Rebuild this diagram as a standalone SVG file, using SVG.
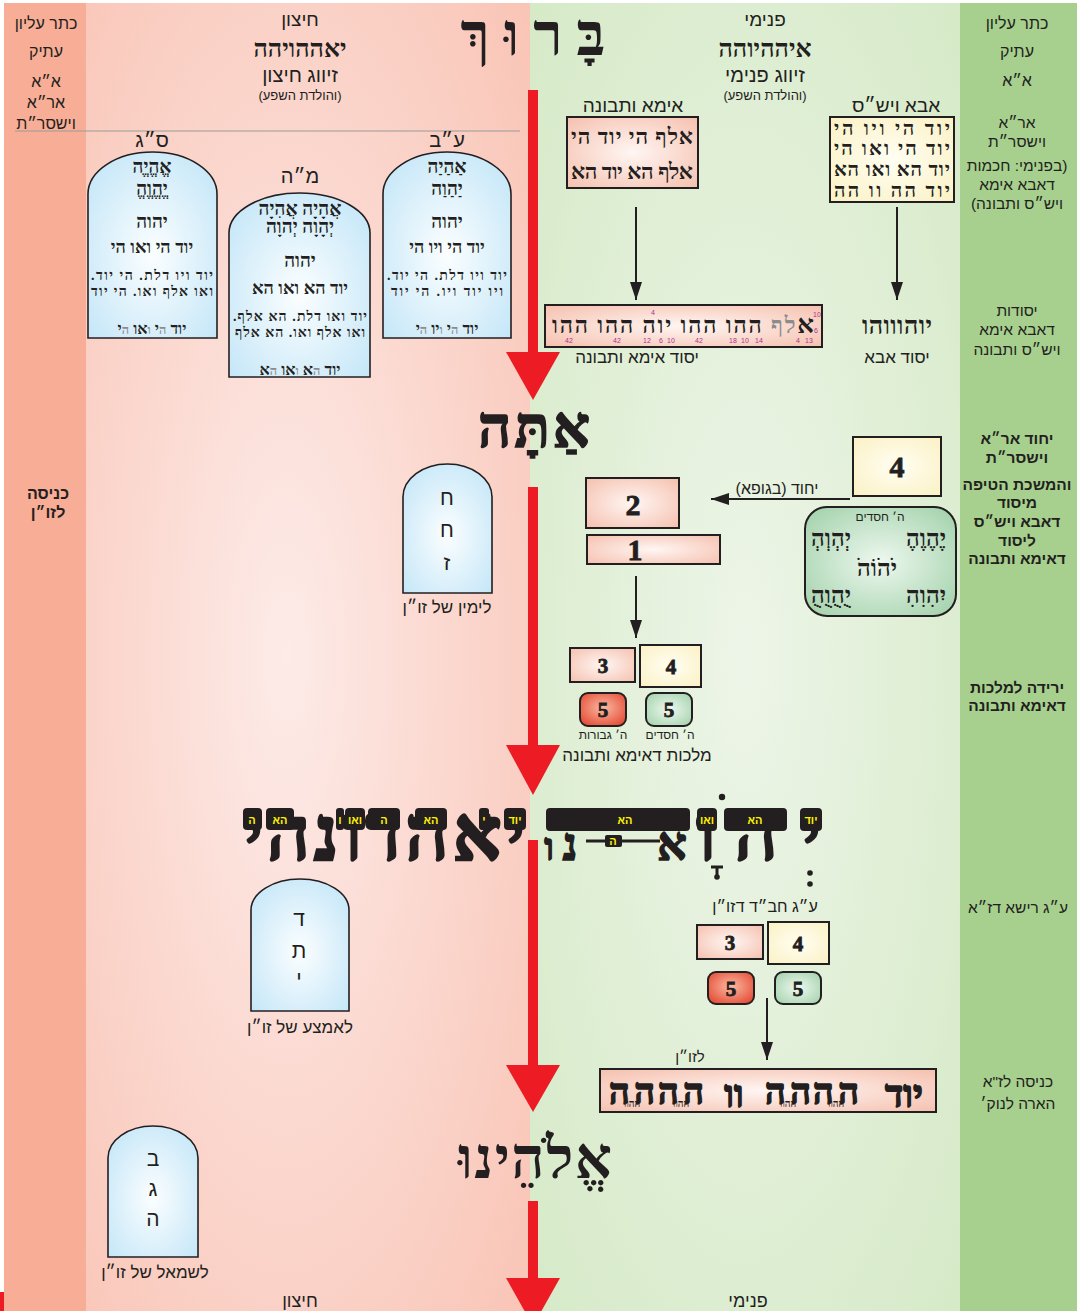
<svg xmlns="http://www.w3.org/2000/svg" width="1091" height="1311" viewBox="0 0 1091 1311">
<defs>
<radialGradient id="gPink" cx="0.45" cy="0.5" r="0.75"><stop offset="0" stop-color="#fdebe8"/><stop offset="1" stop-color="#f9c4b5"/></radialGradient>
<radialGradient id="gGreen" cx="0.5" cy="0.5" r="0.75"><stop offset="0" stop-color="#edf5e8"/><stop offset="1" stop-color="#d4e9c5"/></radialGradient>
<radialGradient id="gTab" cx="0.5" cy="0.55" r="0.65"><stop offset="0" stop-color="#fbfeff"/><stop offset="1" stop-color="#c6e7f8"/></radialGradient>
<radialGradient id="gBoxP" cx="0.5" cy="0.5" r="0.7"><stop offset="0" stop-color="#fff6f3"/><stop offset="1" stop-color="#f5c0ae"/></radialGradient>
<radialGradient id="gBoxY" cx="0.5" cy="0.5" r="0.7"><stop offset="0" stop-color="#fffef2"/><stop offset="1" stop-color="#fbf1c4"/></radialGradient>
<radialGradient id="gBoxG" cx="0.5" cy="0.5" r="0.7"><stop offset="0" stop-color="#eef8ef"/><stop offset="1" stop-color="#9fd0a8"/></radialGradient>
<radialGradient id="gBoxR" cx="0.5" cy="0.45" r="0.7"><stop offset="0" stop-color="#fbb9a3"/><stop offset="1" stop-color="#e2412a"/></radialGradient>
<marker id="ah" markerWidth="18" markerHeight="12" refX="18" refY="6" orient="auto" markerUnits="userSpaceOnUse"><path d="M0,0 L18,6 L0,12 Z" fill="#231f20"/></marker>
</defs>
<style>
.t{font-family:"Liberation Sans","DejaVu Sans",sans-serif;direction:rtl;text-anchor:middle;fill:#231f20}
.tb{font-family:"Liberation Serif","DejaVu Sans",serif;font-weight:bold;direction:rtl;text-anchor:middle;fill:#231f20}
.hv{stroke:#231f20;stroke-width:1.6}
.b{font-weight:bold}
.num{font-family:"Liberation Serif","DejaVu Serif",serif;font-weight:bold;text-anchor:middle;fill:#231f20;stroke:#231f20;stroke-width:0.8}
.tab{fill:url(#gTab);stroke:#231f20;stroke-width:1.6}
.box{stroke:#231f20;stroke-width:2}
.bp{fill:url(#gBoxP)}
.by{fill:url(#gBoxY)}
.bg{fill:url(#gBoxG)}
.br{fill:url(#gBoxR)}
.gr{fill:#8c8c8c;font-size:0.8em}
.yl{fill:#fff200;font-family:"Liberation Sans","DejaVu Sans",sans-serif;font-weight:bold;text-anchor:middle;direction:rtl;font-size:11px}
.blk{fill:#231f20}
.pn{fill:#b0308f;font-family:"Liberation Sans",sans-serif;font-size:7px;text-anchor:middle}
.conn{stroke:#231f20;stroke-width:2;fill:none}
.red{fill:#ed1c24}
</style>

<!-- backgrounds -->
<rect x="0" y="0" width="1091" height="1311" fill="#ffffff"/>
<rect x="4" y="3" width="83" height="1308" fill="#f8ad96"/>
<rect x="86" y="3" width="445" height="1308" fill="url(#gPink)"/>
<rect x="530" y="3" width="431" height="1308" fill="url(#gGreen)"/>
<rect x="960" y="3" width="117" height="1308" fill="#a7d08e"/>
<rect x="0" y="1292" width="4" height="19" fill="#ed1c24"/>
<line x1="15" y1="131" x2="520" y2="131" stroke="#9a9a9a" stroke-width="1"/>

<!-- side labels -->
<g id="left-column">
<text class="t" x="46" y="29" font-size="16">כתר עליון</text>
<text class="t" x="46" y="57" font-size="16">עתיק</text>
<text class="t" x="46" y="87" font-size="16">א״א</text>
<text class="t" x="46" y="108" font-size="16">אר״א</text>
<text class="t" x="46" y="129" font-size="16">וישסר״ת</text>
<text class="t b" x="48" y="499" font-size="16">כניסה</text>
<text class="t b" x="48" y="518" font-size="16">לזו״ן</text>
</g>
<g id="right-column">
<text class="t" x="1017" y="29" font-size="16">כתר עליון</text>
<text class="t" x="1017" y="57" font-size="16">עתיק</text>
<text class="t" x="1017" y="86" font-size="16">א״א</text>
<text class="t" x="1017" y="128" font-size="15.5">אר״א</text>
<text class="t" x="1017" y="147" font-size="15.5">וישסר״ת</text>
<text class="t" x="1017" y="171" font-size="15.5">(בפנימי: חכמות</text>
<text class="t" x="1017" y="190" font-size="15.5">דאבא אימא</text>
<text class="t" x="1017" y="209" font-size="15.5">ויש״ס ותבונה)</text>
<text class="t" x="1017" y="316" font-size="15.5">יסודות</text>
<text class="t" x="1017" y="335" font-size="15.5">דאבא אימא</text>
<text class="t" x="1017" y="355" font-size="15.5">ויש״ס ותבונה</text>
<text class="t b" x="1017" y="444" font-size="15.5">יחוד אר״א</text>
<text class="t b" x="1017" y="463" font-size="15.5">וישסר״ת</text>
<text class="t b" x="1017" y="490" font-size="15.5">והמשכת הטיפה</text>
<text class="t b" x="1017" y="508" font-size="15.5">מיסוד</text>
<text class="t b" x="1017" y="527" font-size="15.5">דאבא ויש״ס</text>
<text class="t b" x="1017" y="546" font-size="15.5">ליסוד</text>
<text class="t b" x="1017" y="564" font-size="15.5">דאימא ותבונה</text>
<text class="t b" x="1017" y="693" font-size="15.5">ירידה למלכות</text>
<text class="t b" x="1017" y="711" font-size="15.5">דאימא ותבונה</text>
<text class="t" x="1018" y="913" font-size="15.5">ע״ג רישא דז״א</text>
<text class="t" x="1018" y="1087" font-size="15.5">כניסה לז"א</text>
<text class="t" x="1018" y="1109" font-size="15.5">הארה לנוק׳</text>
</g>

<!-- headers -->
<g id="header-outer">
<text class="t" x="300" y="26" font-size="19">חיצון</text>
<text class="tb" x="300" y="57" font-size="25">יאההויהה</text>
<text class="t" x="300" y="82" font-size="20">זיווג חיצון</text>
<text class="t" x="300" y="100" font-size="13">(והולדת השפע)</text>
</g>
<g id="header-inner">
<text class="t" x="765" y="26" font-size="19">פנימי</text>
<text class="tb" x="765" y="57" font-size="25">איההיוהה</text>
<text class="t" x="765" y="82" font-size="20">זיווג פנימי</text>
<text class="t" x="765" y="100" font-size="13">(והולדת השפע)</text>
</g>

<!-- big words -->
<g id="word-baruch"><text class="tb" x="533" y="55" font-size="60" textLength="145">בָּרוּךְ</text></g>
<g id="word-ata"><text class="tb hv" x="534" y="447" font-size="58" textLength="112">אַתָּה</text></g>
<g id="word-elokeinu"><text class="tb" x="535" y="1178" font-size="58" textLength="154">אֱלֹהֵינוּ</text></g>

<g id="word-yahdonahi">
<text class="tb" x="384" y="860" font-size="76" textLength="282" stroke="#231f20" stroke-width="2.5">יאהדונהי</text>
<rect class="blk" x="243" y="808" width="19" height="22" rx="4"/><text class="yl" x="252" y="824">ה</text>
<rect class="blk" x="266" y="808" width="28" height="22" rx="4"/><text class="yl" x="280" y="824">הא</text>
<rect class="blk" x="336" y="808" width="8" height="22" rx="3"/><text class="yl" x="340" y="824">ו</text>
<rect class="blk" x="345" y="808" width="20" height="22" rx="4"/><text class="yl" x="355" y="824" font-size="9">ואו</text>
<rect class="blk" x="368" y="808" width="32" height="22" rx="4"/><text class="yl" x="384" y="824">ה</text>
<rect class="blk" x="415" y="808" width="32" height="22" rx="4"/><text class="yl" x="431" y="824">הא</text>
<rect class="blk" x="479" y="808" width="10" height="22" rx="3"/><text class="yl" x="484" y="824">י</text>
<rect class="blk" x="504" y="808" width="22" height="22" rx="4"/><text class="yl" x="515" y="824" font-size="9">יוד</text>
</g>

<g id="word-havaya-adnut">
<text class="tb" x="811" y="860" font-size="76" stroke="#231f20" stroke-width="2.5">י</text>
<text class="tb" x="756" y="860" font-size="76" stroke="#231f20" stroke-width="2.5">ה</text>
<text class="tb" x="706" y="860" font-size="76" stroke="#231f20" stroke-width="2.5">ו</text>
<text class="tb" x="672" y="860" font-size="46" stroke="#231f20" stroke-width="1.5">א</text>
<text class="tb" x="570" y="860" font-size="46" stroke="#231f20" stroke-width="1.5">נ</text>
<text class="tb" x="549" y="860" font-size="38" stroke="#231f20" stroke-width="1.5">ו</text>
<line x1="586" y1="841" x2="660" y2="841" stroke="#231f20" stroke-width="3"/>
<rect class="blk" x="605" y="835" width="17" height="12" rx="2"/><text class="yl" x="613" y="845" font-size="9">ה</text>
<rect class="blk" x="546" y="808" width="144" height="23" rx="4"/><text class="yl" x="625" y="824">הא</text>
<rect class="blk" x="697" y="808" width="20" height="23" rx="4"/><text class="yl" x="707" y="824" font-size="9">ואו</text>
<rect class="blk" x="724" y="808" width="63" height="23" rx="4"/><text class="yl" x="755" y="824">הא</text>
<rect class="blk" x="800" y="808" width="22" height="23" rx="4"/><text class="yl" x="811" y="824" font-size="9">יוד</text>
<circle cx="722" cy="797" r="3.2" fill="#231f20"/>
<path d="M711,867 H723 M717,867 V875" stroke="#231f20" stroke-width="3" fill="none"/>
<circle cx="717" cy="877" r="2.8" fill="#231f20"/>
<circle cx="810" cy="873" r="2.8" fill="#231f20"/>
<circle cx="810" cy="884" r="2.8" fill="#231f20"/>
</g>

<!-- upper tablets -->
<g id="tablet-sag">
<path class="tab" d="M88,338 L88,194 A64.5,42 0 0 1 217,194 L217,338 Z"/>
<text class="t" x="152" y="147" font-size="20">ס״ג</text>
<text class="tb" x="152" y="173" font-size="19">אֱהֱיֱה</text>
<text class="tb" x="152" y="195" font-size="19">יֱהֱוֱהֱ</text>
<text class="tb" x="152" y="228" font-size="19">יהוה</text>
<text class="tb" x="152" y="253" font-size="18">יוד הי ואו הי</text>
<text class="tb" x="152" y="280" font-size="14" textLength="122">יוד ויו דלת. הי יוד.</text>
<text class="tb" x="152" y="296" font-size="14" textLength="122">ואו אלף ואו. הי יוד</text>
<text class="tb" x="152" y="334" font-size="16">יוד <tspan class="gr">ה</tspan>י <tspan class="gr">ו</tspan>או <tspan class="gr">ה</tspan>י</text>
</g>
<g id="tablet-mah">
<path class="tab" d="M229,377 L229,233 A70.5,40 0 0 1 370,233 L370,377 Z"/>
<text class="t" x="300" y="183" font-size="20">מ״ה</text>
<text class="tb" x="300" y="215" font-size="19">אֲהָיָה אֲהִיָה</text>
<text class="tb" x="300" y="233" font-size="19">יְהָוָה יְהוָה</text>
<text class="tb" x="300" y="267" font-size="19">יהוה</text>
<text class="tb" x="300" y="294" font-size="18">יוד הא ואו הא</text>
<text class="tb" x="300" y="321" font-size="14" textLength="134">יוד ואו דלת. הא אלף.</text>
<text class="tb" x="300" y="337" font-size="14" textLength="130">ואו אלף ואו. הא אלף</text>
<text class="tb" x="300" y="375" font-size="16">יוד <tspan class="gr">ה</tspan>א <tspan class="gr">ו</tspan>או <tspan class="gr">ה</tspan>א</text>
</g>
<g id="tablet-av">
<path class="tab" d="M383,338 L383,194 A64,42 0 0 1 511,194 L511,338 Z"/>
<text class="t" x="447" y="147" font-size="20">ע״ב</text>
<text class="tb" x="447" y="173" font-size="19">אַהַיַה</text>
<text class="tb" x="447" y="195" font-size="19">יַהַוַה</text>
<text class="tb" x="447" y="228" font-size="19">יהוה</text>
<text class="tb" x="447" y="253" font-size="18">יוד הי ויו הי</text>
<text class="tb" x="447" y="280" font-size="14" textLength="120">יוד ויו דלת. הי יוד.</text>
<text class="tb" x="447" y="296" font-size="14" textLength="112">ויו יוד ויו. הי יוד</text>
<text class="tb" x="447" y="334" font-size="16">יוד <tspan class="gr">ה</tspan>י <tspan class="gr">ו</tspan>יו <tspan class="gr">ה</tspan>י</text>
</g>

<!-- lower tablets -->
<g id="tablet-right">
<path class="tab" d="M403,593 L403,497 A44.5,33 0 0 1 492,497 L492,593 Z"/>
<text class="t" x="447" y="505" font-size="21">ח</text>
<text class="t" x="447" y="537" font-size="21">ח</text>
<text class="t" x="447" y="570" font-size="21">ז</text>
<text class="t" x="447" y="613" font-size="17">לימין של זו״ן</text>
</g>
<g id="tablet-middle">
<path class="tab" d="M251,1011 L251,910 A49,31 0 0 1 349,910 L349,1011 Z"/>
<text class="t" x="299" y="926" font-size="21">ד</text>
<text class="t" x="299" y="958" font-size="21">ת</text>
<text class="t" x="299" y="986" font-size="21">י</text>
<text class="t" x="300" y="1033" font-size="17">לאמצע של זו״ן</text>
</g>
<g id="tablet-left">
<path class="tab" d="M108,1257 L108,1158 A45,32 0 0 1 198,1158 L198,1257 Z"/>
<text class="t" x="153" y="1166" font-size="21">ב</text>
<text class="t" x="153" y="1196" font-size="21">ג</text>
<text class="t" x="153" y="1226" font-size="21">ה</text>
<text class="t" x="155" y="1278" font-size="17">לשמאל של זו״ן</text>
</g>

<!-- upper green nodes -->
<g id="ima-tvuna">
<text class="t" x="633" y="112" font-size="19">אימא ותבונה</text>
<rect class="box bp" x="567" y="117" width="131" height="71"/>
<text class="tb" x="632" y="144" font-size="22" textLength="122">אלף הי יוד הי</text>
<text class="tb" x="632" y="179" font-size="22" textLength="122">אלף הא יוד הא</text>
</g>
<g id="aba-yisht">
<text class="t" x="896" y="112" font-size="19">אבא ויש״ס</text>
<rect class="box by" x="830" y="117" width="124" height="85"/>
<text class="tb" x="892" y="135" font-size="20" textLength="116">יוד הי ויו הי</text>
<text class="tb" x="892" y="155" font-size="20" textLength="116">יוד הי ואו הי</text>
<text class="tb" x="892" y="176" font-size="20" textLength="116">יוד הא ואו הא</text>
<text class="tb" x="892" y="197" font-size="20" textLength="116">יוד הה וו הה</text>
</g>
<g id="yesod-ima">
<rect class="box bp" x="545" y="305" width="277" height="42"/>
<text class="tb" x="683" y="333" font-size="23" textLength="262"><tspan font-size="26">א</tspan><tspan fill="#8c8c8c">לף</tspan> ההו ההו יוה ההו ההו</text>
<text class="pn" x="569" y="343">42</text>
<text class="pn" x="617" y="343">42</text>
<text class="pn" x="647" y="343">12</text>
<text class="pn" x="661" y="343">6</text>
<text class="pn" x="671" y="343">10</text>
<text class="pn" x="699" y="343">42</text>
<text class="pn" x="733" y="343">18</text>
<text class="pn" x="745" y="343">10</text>
<text class="pn" x="759" y="343">14</text>
<text class="pn" x="798" y="343">4</text>
<text class="pn" x="809" y="343">13</text>
<text class="pn" x="817" y="317">10</text>
<text class="pn" x="816" y="333">6</text>
<text class="pn" x="653" y="315">4</text>
<text class="t" x="637" y="363" font-size="17">יסוד אימא ותבונה</text>
</g>
<g id="yesod-aba">
<text class="tb" x="897" y="334" font-size="25" textLength="70">יוהוווהו</text>
<text class="t" x="897" y="363" font-size="17">יסוד אבא</text>
</g>

<!-- middle green nodes -->
<g id="box-4-top">
<rect class="box by" x="853" y="437" width="88" height="59"/>
<text class="num" x="897" y="477" font-size="30">4</text>
</g>
<g id="hasadim-box">
<rect class="box bg" x="805" y="507" width="151" height="109" rx="22"/>
<text class="t" x="880" y="521" font-size="12">ה׳ חסדים</text>
<text class="tb" x="926" y="546" font-size="24">יֶהֶוֶהֶ</text>
<text class="tb" x="831" y="546" font-size="24">יְהְוְהְ</text>
<text class="tb" x="877" y="576" font-size="24">יֹהֹוֹהֹ</text>
<text class="tb" x="926" y="603" font-size="24">יִהִוִהִ</text>
<text class="tb" x="831" y="603" font-size="24">יֻהֻוֻהֻ</text>
</g>
<g id="box-2">
<rect class="box bp" x="586" y="478" width="93" height="50"/>
<text class="num" x="633" y="515" font-size="30">2</text>
</g>
<g id="box-1">
<rect class="box bp" x="587" y="535" width="133" height="29"/>
<text class="num" x="635" y="560" font-size="30">1</text>
</g>
<g id="malchut-ima">
<rect class="box bp" x="570" y="648" width="65" height="34"/>
<text class="num" x="603" y="673" font-size="21">3</text>
<rect class="box by" x="640" y="645" width="61" height="42"/>
<text class="num" x="671" y="674" font-size="21">4</text>
<rect class="box br" x="580" y="693" width="46" height="33" rx="8"/>
<text class="num" x="603" y="717" font-size="21">5</text>
<rect class="box bg" x="646" y="693" width="46" height="33" rx="8"/>
<text class="num" x="669" y="717" font-size="21">5</text>
<text class="t" x="603" y="739" font-size="12">ה׳ גבורות</text>
<text class="t" x="670" y="739" font-size="12">ה׳ חסדים</text>
<text class="t" x="637" y="761" font-size="17">מלכות דאימא ותבונה</text>
</g>

<!-- lower green nodes -->
<g id="chabad-zon">
<text class="t" x="765" y="912" font-size="16">ע״ג חב״ד דזו״ן</text>
<rect class="box bp" x="697" y="925" width="66" height="34"/>
<text class="num" x="730" y="950" font-size="21">3</text>
<rect class="box by" x="768" y="922" width="61" height="42"/>
<text class="num" x="798" y="951" font-size="21">4</text>
<rect class="box br" x="708" y="972" width="46" height="32" rx="8"/>
<text class="num" x="731" y="996" font-size="21">5</text>
<rect class="box bg" x="775" y="972" width="46" height="32" rx="8"/>
<text class="num" x="798" y="996" font-size="21">5</text>
</g>
<g id="to-zon">
<text class="t" x="690" y="1062" font-size="15">לזו״ן</text>
<rect class="box bp" x="600" y="1069" width="336" height="43"/>
<text class="tb hv" x="904" y="1107" font-size="38">יוד</text>
<text class="tb hv" x="836" y="1104" font-size="36" textLength="46">הה</text>
<text class="tb hv" x="788" y="1104" font-size="36" textLength="46">הה</text>
<text class="tb hv" x="734" y="1107" font-size="38">וו</text>
<text class="tb hv" x="681" y="1104" font-size="36" textLength="46">הה</text>
<text class="tb hv" x="632" y="1104" font-size="36" textLength="46">הה</text>
<text class="tb" x="836" y="1107" font-size="10" fill="#ffffff">ההוו</text>
<text class="tb" x="788" y="1107" font-size="10" fill="#ffffff">ההוו</text>
<text class="tb" x="681" y="1107" font-size="10" fill="#ffffff">ההוו</text>
<text class="tb" x="632" y="1107" font-size="10" fill="#ffffff">ההוו</text>
</g>

<text class="t" x="300" y="1307" font-size="18">חיצון</text>
<text class="t" x="748" y="1307" font-size="18">פנימי</text>

<!-- connectors -->
<g id="connectors">
<rect class="red" x="528" y="90" width="10" height="265"/>
<polygon class="red" points="506,352 560,352 533,400"/>
<rect class="red" x="528" y="487" width="10" height="261"/>
<polygon class="red" points="506,745 560,745 533,795"/>
<rect class="red" x="528" y="840" width="10" height="228"/>
<polygon class="red" points="506,1065 560,1065 533,1112"/>
<rect class="red" x="528" y="1201" width="10" height="80"/>
<polygon class="red" points="506,1278 560,1278 533,1326"/>
<line class="conn" x1="636" y1="207" x2="636" y2="300" marker-end="url(#ah)"/>
<line class="conn" x1="897" y1="207" x2="897" y2="300" marker-end="url(#ah)"/>
<line class="conn" x1="850" y1="499" x2="711" y2="499" marker-end="url(#ah)"/>
<text class="t" x="777" y="494" font-size="16">יחוד (בגופא)</text>
<line class="conn" x1="636" y1="576" x2="636" y2="638" marker-end="url(#ah)"/>
<line class="conn" x1="767" y1="998" x2="767" y2="1060" marker-end="url(#ah)"/>
</g>
</svg>
